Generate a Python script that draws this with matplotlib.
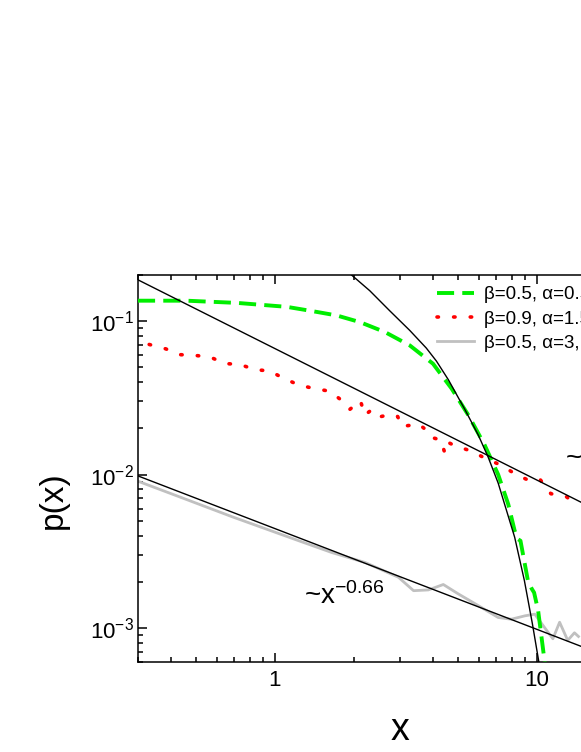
import numpy as np
import matplotlib
matplotlib.use("Agg")
import matplotlib.pyplot as plt
import matplotlib.ticker as mticker

plt.rcParams["font.family"] = ["Liberation Sans", "DejaVu Sans"]
plt.rcParams["mathtext.default"] = "regular"

GREEN = "#00ee00"
RED = "#ff0000"
GRAY = "#c0c0c0"
INK = "#000000"

# ---------------------------------------------------------------------------
# data
# ---------------------------------------------------------------------------
green_x = [0.30, 0.46, 0.72, 1.11, 1.36, 1.72, 2.11, 2.63, 3.27, 4.01, 4.72,
           5.47, 6.31, 7.11, 7.77, 8.22, 8.45, 8.65, 9.23, 9.55, 9.75, 10.1, 10.7]
green_y = [0.136, 0.136, 0.1315, 0.124, 0.117, 0.109, 0.0986, 0.0849, 0.0695,
           0.0528, 0.0364, 0.0244, 0.0156, 0.0100, 0.0064, 0.0043, 0.0038,
           0.0037, 0.00204, 0.0018, 0.0017, 0.0013, 0.0006]

red_x = [0.331, 0.383, 0.434, 0.495, 0.564, 0.644, 0.734, 0.837, 0.954, 1.085,
         1.237, 1.41, 1.61, 1.76, 1.93, 2.12, 2.20, 2.35, 2.54, 2.78, 2.94,
         3.05, 3.32, 3.53, 3.71, 3.94, 4.30, 4.46, 4.65, 4.79, 5.62, 6.39,
         7.30, 8.33, 9.39, 10.27, 11.3, 12.9, 14.3]
red_y = [0.0705, 0.066, 0.0605, 0.0598, 0.0585, 0.0529, 0.0523, 0.0483, 0.0474,
         0.0422, 0.0383, 0.0364, 0.035, 0.0313, 0.0266, 0.0303, 0.0244, 0.0266,
         0.0239, 0.0247, 0.0239, 0.0206, 0.021, 0.0214, 0.020, 0.0175, 0.0168,
         0.0136, 0.016, 0.0156, 0.0142, 0.0127, 0.0115, 0.0100, 0.0091, 0.0093,
         0.0075, 0.0072, 0.0063]

gray_x = [0.30, 0.419, 0.688, 1.234, 1.65, 2.21, 2.96, 3.38, 3.85, 4.39, 5.0,
          5.80, 7.11, 7.98, 9.0, 9.81, 10.67, 11.5, 12.2, 13.1, 13.9, 14.4]
gray_y = [0.00905, 0.0073, 0.0053, 0.0037, 0.0031, 0.00267, 0.00214, 0.00175,
          0.00177, 0.00192, 0.00167, 0.00144, 0.00117, 0.00114, 0.0012,
          0.00123, 0.00101, 0.00085, 0.00109, 0.00083, 0.00093, 0.00088]

# black cut-off curve through the green data
cut_x = [1.96, 2.30, 2.74, 3.27, 3.78, 4.13, 4.59, 5.31, 5.97, 6.51, 7.11,
         8.22, 8.95, 9.60, 10.2]
cut_y = [0.200, 0.158, 0.117, 0.087, 0.0668, 0.0550, 0.0415, 0.0265, 0.0181,
         0.0130, 0.0088, 0.0039, 0.00204, 0.00107, 0.00058]

# power-law guide lines (end points)
fit_hi_x = [0.30, 15.0]
fit_hi_y = [0.186, 0.0065]
fit_lo_x = [0.30, 15.0]
fit_lo_y = [0.0098, 0.00075]

labels = ["β=0.5, α=0.5", "β=0.9, α=1.5", "β=0.5, α=3, γ=1"]

# ---------------------------------------------------------------------------
fig = plt.figure(figsize=(5.81, 7.52), dpi=100)
# axes run past the right edge of the canvas (cropped figure)
ax = fig.add_axes([0.2375, 0.1197, 0.9019, 0.5146])

ax.plot(green_x, green_y, color=GREEN, lw=2.8, linestyle=(0, (4.4, 2.1)),
        label=labels[0], zorder=3)
ax.plot(red_x, red_y, color=RED, lw=2.6, linestyle=(0, (0.4, 4.2)),
        dash_capstyle="round", label=labels[1], zorder=3)
ax.plot(gray_x, gray_y, color=GRAY, lw=2.0, label=labels[2], zorder=2)

ax.plot(cut_x, cut_y, color=INK, lw=1.0, zorder=4)
ax.plot(fit_hi_x, fit_hi_y, color=INK, lw=1.0, zorder=4)
ax.plot(fit_lo_x, fit_lo_y, color=INK, lw=1.0, zorder=4)

ax.set_xscale("log")
ax.set_yscale("log")
ax.set_xlim(0.3, 30)
ax.set_ylim(6e-4, 0.2)

ax.xaxis.set_major_formatter(mticker.FuncFormatter(lambda v, p: f"{v:g}"))
ax.xaxis.set_minor_formatter(mticker.NullFormatter())
ax.yaxis.set_minor_formatter(mticker.NullFormatter())

ax.tick_params(which="both", direction="in", top=True, right=True, width=1.1,
               labelsize=16, color=INK)
ax.tick_params(which="major", length=6.5)
ax.tick_params(which="minor", length=3.6)
ax.tick_params(axis="x", pad=6)
ax.tick_params(axis="y", pad=3)
for spine in ax.spines.values():
    spine.set_linewidth(1.1)

ax.set_xlabel("x", fontsize=27)
ax.xaxis.set_label_coords(0.5, -0.13)
ax.set_ylabel("p(x)", fontsize=24)
ax.yaxis.set_label_coords(-0.132, 0.419)

ax.text(1.29, 1.43e-3, "~$x^{-0.66}$", fontsize=20, ha="left", va="baseline")
ax.text(12.8, 0.0112, "~$x^{-0.85}$", fontsize=20, ha="left", va="baseline")

ax.legend(loc="upper left", bbox_to_anchor=(0.5706, 0.971), frameon=False,
          fontsize=13.5, handlelength=2.0, handletextpad=0.5,
          labelspacing=0.38, borderpad=0, borderaxespad=0)

fig.savefig("out.png", dpi=100)
